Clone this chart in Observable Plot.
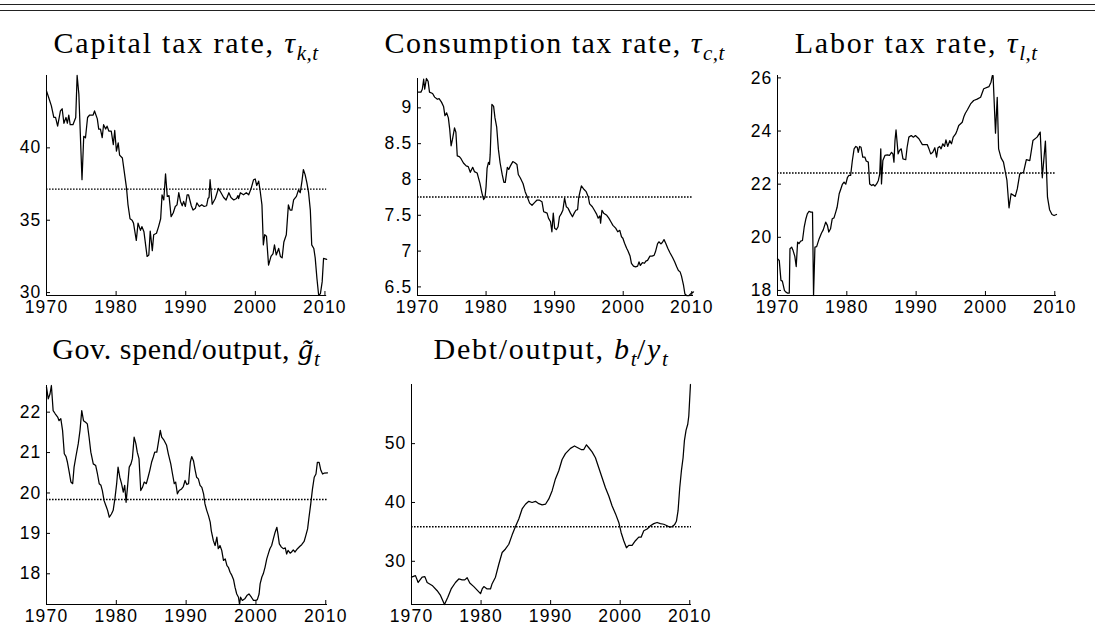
<!DOCTYPE html>
<html><head><meta charset="utf-8">
<script src="https://cdn.jsdelivr.net/npm/d3@7"></script>
<script src="https://cdn.jsdelivr.net/npm/@observablehq/plot@0.6"></script>
<style>
body{margin:0;background:#fff;}
#page{position:relative;width:1095px;height:639px;overflow:hidden;background:#fff;}
.rule{position:absolute;left:0;width:1095px;height:0;border-top:1.4px solid #222;}
.title{position:absolute;font-family:"Liberation Serif","Times New Roman",serif;font-size:30px;white-space:nowrap;transform:translateX(-50%);line-height:1;color:#000;}
.title i{font-style:italic;}
.title .sb{font-size:70%;vertical-align:-0.35em;font-style:italic;letter-spacing:0.5px;}
</style></head><body><div id="page"></div>
<script>
// ---- shared axis data ----
const xTicks = [1970, 1980, 1990, 2000, 2010];
const xDomain = [1970, 2010.25];

// ---- Capital tax rate ----
const capYears = [1970.0,1970.3,1970.7,1971.05,1971.3,1971.6,1972.0,1972.25,1972.5,1972.8,1973.0,1973.2,1973.4,1973.8,1974.2,1974.4,1974.65,1975.1,1975.35,1975.6,1975.9,1976.2,1976.7,1976.9,1977.3,1977.5,1977.75,1978.0,1978.2,1978.5,1978.7,1978.95,1979.3,1979.6,1979.8,1980.05,1980.3,1980.5,1980.9,1981.1,1981.5,1981.7,1982.0,1982.3,1982.5,1982.9,1983.15,1983.5,1983.7,1984.0,1984.45,1984.7,1984.9,1985.2,1985.4,1985.8,1986.1,1986.4,1986.6,1986.85,1987.1,1987.35,1987.6,1987.9,1988.2,1988.5,1988.75,1989.0,1989.25,1989.5,1989.7,1989.95,1990.2,1990.4,1990.8,1991.05,1991.4,1991.6,1991.95,1992.3,1992.65,1993.0,1993.2,1993.35,1993.5,1993.8,1994.25,1994.7,1994.95,1995.45,1995.8,1996.2,1996.5,1996.9,1997.3,1997.5,1997.6,1997.85,1998.3,1998.7,1999.05,1999.4,1999.75,1999.98,2000.2,2000.48,2000.7,2000.95,2001.15,2001.35,2001.6,2001.9,2002.25,2002.55,2002.75,2003.0,2003.35,2003.6,2003.85,2004.1,2004.45,2004.75,2005.0,2005.25,2005.5,2005.9,2006.2,2006.45,2006.7,2006.9,2007.15,2007.4,2007.65,2007.9,2008.1,2008.4,2008.6,2008.85,2009.1,2009.35,2009.6,2009.8,2010.25];
const capVals = [43.94,43.5,42.9,42.1,42.1,41.5,42.55,42.7,41.7,42.1,41.7,42.27,41.6,41.6,42.1,45.0,43.7,37.8,40.8,40.7,42.1,42.27,42.27,42.55,42.0,41.3,41.3,40.7,41.6,41.3,41.5,41.16,41.16,40.23,41.2,39.77,40.35,39.5,39.3,38.6,37.2,36.1,35.1,35.0,34.8,33.6,34.8,34.3,34.56,34.2,32.5,32.6,34.25,32.9,34.0,34.1,34.56,35.1,36.75,36.4,38.2,36.65,36.7,35.25,35.5,35.95,36.06,36.9,36.3,36.0,36.3,35.95,36.76,36.76,36.0,35.7,35.83,36.2,35.95,36.07,35.95,36.0,36.5,36.57,37.8,36.1,36.5,37.2,37.0,36.57,36.4,36.9,36.57,36.4,36.5,36.7,36.5,36.9,36.76,36.9,36.76,37.2,37.8,37.85,37.4,37.7,37.0,36.06,33.3,34.0,33.9,31.9,32.5,32.7,33.3,32.6,33.05,32.5,32.4,33.5,34.0,36.06,35.7,35.7,36.4,36.65,37.1,36.9,37.7,38.5,38.15,37.6,36.9,35.7,33.3,33.05,32.4,30.97,29.8,29.93,30.74,32.36,32.3];
const capMean = 37.15;
const capYTicks = [30, 35, 40];

// ---- Consumption tax rate ----
const consYears = [1970.0,1970.5,1970.7,1970.9,1971.05,1971.3,1971.55,1971.75,1972.2,1972.5,1972.9,1973.15,1973.5,1973.8,1974.0,1974.25,1974.5,1974.7,1974.9,1975.1,1975.4,1975.6,1975.8,1976.1,1976.35,1976.7,1977.1,1977.4,1977.7,1978.05,1978.3,1978.7,1978.9,1979.1,1979.4,1979.65,1979.85,1980.0,1980.15,1980.35,1980.5,1980.6,1980.85,1981.1,1981.3,1981.55,1981.8,1982.05,1982.35,1982.6,1982.8,1983.1,1983.3,1983.55,1983.9,1984.25,1984.5,1984.7,1985.0,1985.4,1985.7,1986.0,1986.35,1986.7,1987.1,1987.4,1987.8,1988.15,1988.4,1988.65,1988.9,1989.1,1989.4,1989.6,1989.8,1990.0,1990.25,1990.5,1990.7,1990.95,1991.2,1991.45,1991.7,1991.95,1992.3,1992.6,1992.85,1993.1,1993.35,1993.5,1993.65,1993.9,1994.3,1994.6,1994.9,1995.1,1995.5,1995.8,1996.1,1996.35,1996.6,1996.7,1996.9,1997.15,1997.6,1997.9,1998.2,1998.5,1998.9,1999.2,1999.5,1999.75,1999.95,2000.2,2000.5,2000.7,2001.0,2001.2,2001.5,2001.8,2002.1,2002.3,2002.5,2002.8,2003.1,2003.3,2003.55,2003.9,2004.2,2004.5,2004.7,2005.0,2005.2,2005.5,2005.7,2005.95,2006.2,2006.5,2006.8,2007.2,2007.5,2007.8,2008.05,2008.3,2008.5,2008.8,2009.0,2009.25,2009.6,2009.9,2010.25];
const consVals = [9.22,9.22,9.26,9.40,9.26,9.41,9.37,9.22,9.20,9.15,9.12,9.13,9.08,9.02,8.89,8.93,8.86,8.70,8.47,8.56,8.72,8.66,8.33,8.32,8.29,8.23,8.19,8.18,8.10,8.17,8.11,8.09,8.02,7.95,7.81,7.72,7.75,7.90,8.16,8.24,8.21,8.35,9.05,9.02,8.86,8.73,8.42,8.23,8.07,7.96,7.96,8.17,8.14,8.19,8.25,8.23,8.21,8.07,8.02,7.94,7.83,7.76,7.67,7.64,7.68,7.71,7.71,7.69,7.55,7.54,7.53,7.46,7.41,7.27,7.53,7.32,7.30,7.34,7.48,7.52,7.57,7.74,7.62,7.60,7.53,7.48,7.53,7.57,7.58,7.74,7.81,7.91,7.86,7.83,7.76,7.66,7.62,7.57,7.52,7.46,7.49,7.39,7.57,7.53,7.50,7.46,7.41,7.36,7.32,7.27,7.29,7.20,7.18,7.11,7.04,7.00,6.93,6.83,6.79,6.78,6.79,6.85,6.80,6.84,6.83,6.86,6.87,6.93,6.93,6.94,6.99,7.10,7.13,7.10,7.12,7.16,7.11,7.04,6.98,6.91,6.85,6.78,6.73,6.71,6.65,6.52,6.40,6.38,6.38,6.41,6.43];
const consMean = 7.756;
const consYTicks = [6.5, 7, 7.5, 8, 8.5, 9];

// ---- Labor tax rate ----
const laborYears = [1970.0,1970.25,1970.5,1970.7,1971.0,1971.2,1971.45,1971.7,1971.8,1972.05,1972.25,1972.5,1972.7,1972.9,1973.1,1973.35,1973.6,1973.85,1974.1,1974.3,1974.55,1974.8,1975.05,1975.2,1975.4,1975.65,1976.0,1976.35,1976.6,1976.95,1977.2,1977.4,1977.65,1977.9,1978.15,1978.4,1978.6,1978.9,1979.1,1979.35,1979.6,1979.85,1980.1,1980.3,1980.55,1980.8,1981.05,1981.3,1981.5,1981.65,1981.85,1982.05,1982.3,1982.6,1982.8,1983.1,1983.3,1983.6,1983.8,1984.05,1984.3,1984.55,1984.75,1984.9,1985.0,1985.2,1985.5,1985.85,1986.15,1986.45,1986.65,1986.8,1986.95,1987.1,1987.4,1987.6,1987.85,1988.1,1988.5,1988.7,1988.95,1989.3,1989.6,1989.9,1990.4,1990.9,1991.6,1991.85,1992.1,1992.4,1992.7,1992.95,1993.15,1993.4,1993.6,1993.85,1994.1,1994.3,1994.55,1994.85,1995.1,1995.35,1995.7,1995.9,1996.15,1996.65,1996.9,1997.1,1997.4,1997.85,1998.3,1998.8,1999.3,1999.75,2000.5,2000.8,2001.0,2001.1,2001.45,2001.7,2001.9,2002.25,2002.6,2003.1,2003.4,2003.7,2004.3,2004.6,2004.95,2005.5,2005.9,2006.4,2006.85,2007.45,2007.9,2008.2,2008.65,2008.95,2009.25,2009.6,2009.9,2010.25];
const laborVals = [19.19,19.13,18.38,18.35,18.0,17.94,17.9,17.9,19.57,19.63,19.5,19.28,18.9,19.82,19.76,19.86,19.88,20.38,20.7,20.88,20.98,20.95,20.95,17.81,19.63,19.65,19.94,20.16,20.28,20.57,20.45,20.2,20.32,20.7,20.73,20.95,21.13,21.64,21.79,21.99,22.08,22.0,22.26,22.33,22.33,22.89,23.33,23.42,23.39,23.2,23.42,23.39,23.02,23.02,22.87,22.83,22.01,21.95,21.99,21.93,22.01,22.14,22.39,23.33,22.01,22.89,23.08,23.1,23.08,23.2,23.14,22.83,23.64,24.04,23.14,23.27,23.33,22.95,22.92,23.39,23.77,23.83,23.77,23.83,23.71,23.49,23.49,23.33,23.14,23.2,23.37,23.02,23.37,23.42,23.33,23.52,23.42,23.67,23.42,23.64,23.52,23.77,23.89,24.02,24.21,24.33,24.55,24.67,24.8,25.02,25.15,25.2,25.27,25.59,25.67,25.84,26.09,26.09,23.92,25.27,23.33,22.99,22.83,22.14,21.11,21.64,21.54,21.83,22.39,22.45,22.92,22.89,23.64,23.77,23.96,22.24,23.62,21.51,21.04,20.86,20.82,20.86];
const laborMean = 22.42;
const laborYTicks = [18, 20, 22, 24, 26];

// ---- Gov. spend / output ----
const govYears = [1970.0,1970.25,1970.5,1970.7,1970.95,1971.25,1971.6,1971.8,1972.05,1972.3,1972.55,1972.8,1973.0,1973.25,1973.5,1973.75,1973.95,1974.2,1974.55,1974.8,1975.05,1975.3,1975.6,1975.85,1976.1,1976.35,1976.7,1977.05,1977.3,1977.55,1977.8,1978.0,1978.25,1978.5,1978.75,1979.0,1979.3,1979.55,1979.8,1980.05,1980.25,1980.5,1980.75,1981.0,1981.2,1981.4,1981.6,1981.85,1982.1,1982.3,1982.55,1982.8,1983.0,1983.25,1983.5,1983.75,1984.0,1984.3,1984.55,1984.8,1985.05,1985.3,1985.5,1985.8,1986.0,1986.3,1986.5,1986.85,1987.2,1987.45,1987.8,1988.05,1988.3,1988.5,1988.75,1989.0,1989.35,1989.6,1989.85,1990.1,1990.35,1990.6,1990.8,1991.05,1991.3,1991.5,1991.75,1992.0,1992.25,1992.5,1992.7,1992.95,1993.2,1993.45,1993.6,1993.9,1994.15,1994.4,1994.6,1994.85,1995.1,1995.35,1995.6,1995.85,1996.05,1996.3,1996.55,1996.8,1997.0,1997.25,1997.5,1997.65,1997.8,1998.05,1998.4,1998.7,1999.0,1999.35,1999.65,1999.95,2000.2,2000.45,2000.6,2000.85,2001.05,2001.3,2001.55,2001.8,2002.0,2002.25,2002.5,2002.75,2003.0,2003.15,2003.35,2003.65,2003.95,2004.2,2004.4,2004.6,2004.9,2005.1,2005.35,2005.6,2005.95,2006.3,2006.55,2006.9,2007.15,2007.4,2007.6,2007.85,2008.1,2008.35,2008.6,2008.8,2009.05,2009.3,2009.55,2009.75,2010.25];
const govVals = [22.62,22.33,22.45,22.66,22.04,21.96,21.88,21.79,21.84,21.55,20.97,20.9,20.76,20.52,20.27,20.23,20.64,20.89,21.22,21.55,22.04,21.79,21.75,21.71,21.38,21.01,20.72,20.68,20.47,20.23,20.19,20.06,19.81,19.69,19.57,19.40,19.48,19.57,19.86,20.23,20.64,20.39,20.23,20.02,20.19,19.77,20.14,20.64,20.72,20.85,21.38,21.22,21.01,20.85,20.06,20.14,20.27,20.23,20.39,20.56,20.76,20.89,21.01,21.01,21.22,21.55,21.38,21.3,21.18,20.97,20.72,20.47,20.23,20.27,19.98,20.06,20.1,20.16,20.31,20.21,20.23,20.76,20.9,20.8,20.56,20.39,20.35,20.19,20.14,19.98,19.73,19.57,19.44,19.28,19.07,18.82,18.7,18.91,18.62,18.7,18.58,18.33,18.37,18.2,18.16,18.04,17.96,17.85,17.67,17.5,17.42,17.24,17.42,17.34,17.38,17.46,17.5,17.42,17.34,17.34,17.36,17.5,17.75,17.92,18.0,18.16,18.37,18.51,18.62,18.7,18.87,19.03,19.15,18.99,18.74,18.66,18.62,18.64,18.49,18.58,18.51,18.54,18.59,18.54,18.62,18.68,18.72,18.8,18.95,19.11,19.4,19.73,20.1,20.39,20.47,20.76,20.76,20.56,20.47,20.49,20.5];
const govMean = 19.84;
const govYTicks = [18, 19, 20, 21, 22];

// ---- Debt / output ----
const debtYears = [1970.0,1970.57,1970.96,1971.53,1971.92,1972.25,1972.97,1973.69,1974.17,1974.74,1975.22,1975.7,1976.32,1976.8,1977.28,1977.66,1978.0,1978.38,1978.96,1979.44,1979.92,1980.16,1980.4,1980.87,1981.35,1981.59,1982.07,1982.55,1983.03,1983.51,1983.99,1984.47,1984.95,1985.42,1985.9,1986.38,1986.86,1987.34,1987.82,1988.3,1988.78,1989.26,1989.74,1990.22,1990.69,1991.17,1991.65,1992.13,1992.85,1993.43,1993.9,1994.38,1994.77,1995.15,1995.49,1995.96,1996.44,1996.92,1997.4,1997.88,1998.36,1998.84,1999.32,1999.8,2000.13,2000.51,2000.9,2001.23,2001.71,2002.19,2002.67,2003.01,2003.39,2003.87,2004.35,2004.83,2005.3,2005.78,2006.26,2006.74,2007.13,2007.46,2007.8,2008.08,2008.32,2008.56,2008.8,2009.04,2009.23,2009.47,2009.71,2009.86,2010.1];
const debtVals = [27.3,27.57,26.4,27.3,27.4,26.4,25.9,25.0,24.2,22.66,23.9,25.3,26.4,27.0,26.84,26.84,27.2,26.3,25.7,25.1,24.5,25.3,25.7,25.3,25.3,26.2,27.3,29.5,31.5,32.1,32.9,34.5,35.9,37.2,38.9,39.7,40.2,40.0,40.2,39.8,39.6,39.7,40.6,42.0,44.0,45.4,47.3,48.3,49.2,49.6,49.3,49.0,49.0,49.8,49.3,48.6,47.6,45.9,44.2,42.5,41.1,39.4,38.1,36.6,34.9,33.5,32.3,32.7,32.7,33.5,34.1,34.1,35.2,35.5,36.05,36.4,36.6,36.4,36.3,36.05,35.8,35.9,36.2,36.8,38.6,42.5,45.4,47.6,50.5,52.3,53.3,54.7,60.05];
const debtMean = 35.88;
const debtYTicks = [30, 40, 50];

// ---- titles ----
const titles = [
  'Capital tax rate, <i>τ</i><span class="sb">k,t</span>',
  'Consumption tax rate, <i>τ</i><span class="sb">c,t</span>',
  'Labor tax rate, <i>τ</i><span class="sb">l,t</span>',
  'Gov. spend/output, <i>g̃</i><span class="sb">t</span>',
  'Debt/output, <i>b</i><span class="sb">t</span>/<i>y</i><span class="sb">t</span>'
];

const page = document.getElementById("page");
// double rule at the top
for (const [top, w] of [[4, 1.6], [10, 1.1]]) {
  const r = document.createElement("div");
  r.className = "rule"; r.style.top = top + "px"; r.style.borderTopWidth = w + "px";
  page.appendChild(r);
}

const panels = [
  {years: capYears, vals: capVals, mean: capMean, yTicks: capYTicks, l: 46, r: 326.2, t: 75, b: 295, title: titles[0], ls: 1.8},
  {years: consYears, vals: consVals, mean: consMean, yTicks: consYTicks, l: 416.7, r: 692.7, t: 78, b: 295, title: titles[1], ls: 1.5},
  {years: laborYears, vals: laborVals, mean: laborMean, yTicks: laborYTicks, l: 776.7, r: 1055.7, t: 75, b: 295, title: titles[2], ls: 1.8},
  {years: govYears, vals: govVals, mean: govMean, yTicks: govYTicks, l: 45.7, r: 326.7, t: 385, b: 604, title: titles[3], ls: 0.6},
  {years: debtYears, vals: debtVals, mean: debtMean, yTicks: debtYTicks, l: 411, r: 691, t: 384, b: 604, title: titles[4], ls: 1.7}
];

panels.forEach((p, i) => {
  const ml = 52, mr = 16, mt = 12, mb = 32;
  const fw = p.r - p.l, fh = p.b - p.t;
  const W = fw + ml + mr, H = fh + mt + mb;
  const data = p.years.map((x, k) => ({x, y: p.vals[k]}));
  const yDom = d3.extent(p.vals);
  const svg = Plot.plot({
    width: W, height: H,
    marginLeft: ml, marginRight: mr, marginTop: mt, marginBottom: mb,
    style: {fontFamily: "'Liberation Sans', Arial, sans-serif", fontSize: "17.5px", letterSpacing: "1.2px", color: "#000", background: "transparent", overflow: "visible"},
    x: {domain: xDomain, ticks: xTicks, tickFormat: d => String(d), tickSize: 0, tickPadding: 5, label: null},
    y: {domain: yDom, ticks: p.yTicks, tickFormat: d => String(d), tickSize: 0, tickPadding: 5, label: null},
    marks: [
      Plot.ruleY([p.mean], {stroke: "#000", strokeWidth: 1.4, strokeDasharray: "1.6,1.4"}),
      Plot.line(data, {x: "x", y: "y", stroke: "#000", strokeWidth: 1.25}),
      Plot.ruleX(xTicks, {x: d => d, insetTop: fh - 4, stroke: "#000"}),
      Plot.ruleY(p.yTicks, {y: d => d, insetRight: fw - 4, stroke: "#000"}),
      Plot.ruleX([xDomain[0]], {stroke: "#000"}),
      Plot.ruleY([yDom[0]], {stroke: "#000"})
    ]
  });
  svg.style.position = "absolute";
  svg.style.left = (p.l - ml) + "px";
  svg.style.top = (p.t - mt) + "px";
  page.appendChild(svg);

  const t = document.createElement("div");
  t.className = "title";
  t.innerHTML = p.title;
  t.style.letterSpacing = p.ls + "px";
  t.style.left = ((p.l + p.r) / 2) + "px";
  t.style.top = (i < 3 ? 28 : 334) + "px";
  page.appendChild(t);
});
</script>
</body></html>
